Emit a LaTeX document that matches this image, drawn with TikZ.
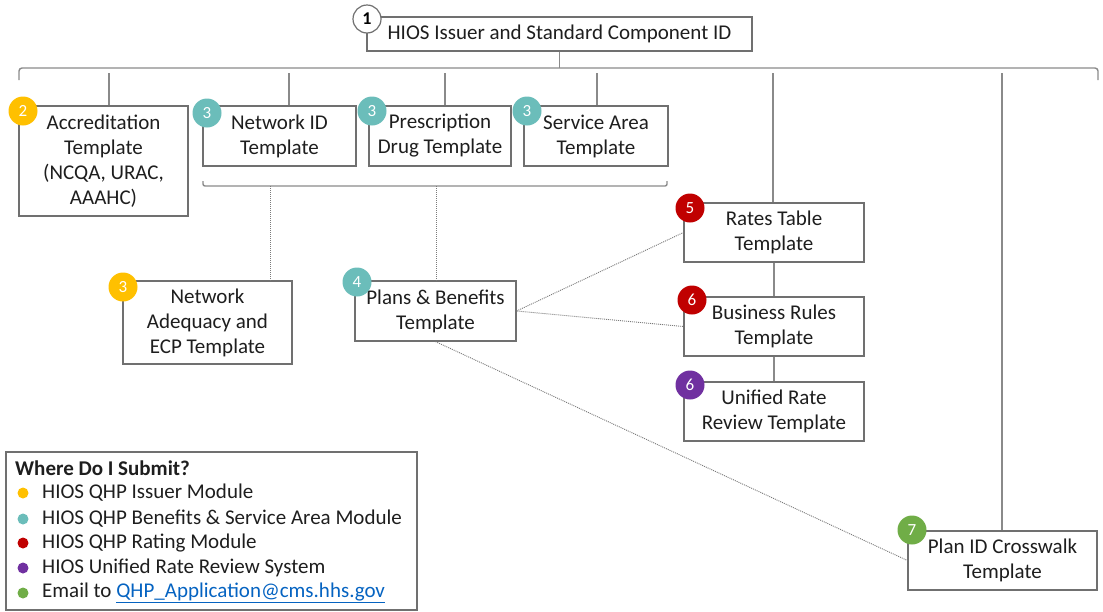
\documentclass[tikz,border=0pt]{standalone}
\usepackage{fontspec}
\setmainfont{Carlito}
\usetikzlibrary{calc}

\definecolor{boxgray}{HTML}{707070}
\definecolor{linegray}{HTML}{8A8A8A}
\definecolor{feedgray}{HTML}{7A7A7A}
\definecolor{inkgray}{HTML}{1E1E1E}
\definecolor{issuer}{HTML}{FFC000}
\definecolor{benefits}{HTML}{6BBDBA}
\definecolor{rating}{HTML}{C00000}
\definecolor{urrs}{HTML}{7030A0}
\definecolor{email}{HTML}{70AD47}
\definecolor{linkblue}{HTML}{0563C1}

\tikzset{
  tmpl/.style={draw=boxgray, line width=1.2pt, fill=white, align=center,
    inner sep=0pt, text=inkgray, font=\fontsize{21}{25}\selectfont},
  badge/.style={circle, fill=#1, minimum size=29pt, inner sep=0pt, text=white,
    font=\fontsize{17}{17}\selectfont},
  link/.style={draw=linegray, line width=1.4pt},
  feed/.style={draw=feedgray, line width=0.9pt, dash pattern=on 1pt off 1pt},
  legdot/.style={circle, fill=#1, minimum size=11pt, inner sep=0pt},
  legtext/.style={anchor=west, inner sep=0pt, text=inkgray, font=\fontsize{21}{25}\selectfont},
}

\begin{document}
\begin{tikzpicture}[x=1pt, y=-1pt]
\useasboundingbox (0,0) rectangle (1103,611);

% template boxes
\node[tmpl, minimum width=385pt, minimum height=34pt] (hios) at (559.5,34) {HIOS Issuer and Standard Component ID};
\node[tmpl, minimum width=169pt, minimum height=110pt] (acc) at (103.5,161) {Accreditation\\Template\\(NCQA, URAC,\\AAAHC)};
\node[tmpl, minimum width=153pt, minimum height=60pt] (netid) at (279.5,136) {Network ID\\Template};
\node[tmpl, minimum width=142pt, minimum height=60pt] (rx) at (440,136) {Prescription\\Drug Template};
\node[tmpl, minimum width=144pt, minimum height=60pt] (svc) at (596,136) {Service Area\\Template};
\node[tmpl, minimum width=169pt, minimum height=83pt] (netadeq) at (207.5,322.5) {Network\\Adequacy and\\ECP Template};
\node[tmpl, minimum width=161pt, minimum height=60pt] (pb) at (435.5,311) {Plans \& Benefits\\Template};
\node[tmpl, minimum width=180pt, minimum height=59pt] (rates) at (774,232.5) {Rates Table\\Template};
\node[tmpl, minimum width=180pt, minimum height=59pt] (biz) at (774,326.5) {Business Rules\\Template};
\node[tmpl, minimum width=180pt, minimum height=59pt] (urr) at (774,411.5) {Unified Rate\\Review Template};
\node[tmpl, minimum width=189pt, minimum height=59pt] (cross) at (1002.5,560.5) {Plan ID Crosswalk\\Template};

% top distribution bus
\coordinate (busL) at (19,68);
\coordinate (busR) at (1098,68);
\draw[link, rounded corners=3pt] ($(busL)+(0,12)$) -- (busL) -- (busR) -- ($(busR)+(0,12)$);
\draw[link] (hios.south) -- (hios.south |- busL);

% drops from the bus
\coordinate (d1) at (109,73);
\coordinate (d2) at (289,73);
\coordinate (d3) at (445,73);
\coordinate (d4) at (597,73);
\coordinate (d5) at (773,73);
\coordinate (d6) at (1002,73);
\draw[link] (d1) -- (d1 |- acc.north);
\draw[link] (d2) -- (d2 |- netid.north);
\draw[link] (d3) -- (d3 |- rx.north);
\draw[link] (d4) -- (d4 |- svc.north);
\draw[link] (d5) -- (d5 |- rates.north);
\draw[link] (d6) -- (d6 |- cross.north);

% bracket under the benefits templates
\coordinate (brL) at (203,186);
\coordinate (brR) at (667,186);
\draw[link, rounded corners=2pt] ($(brL)+(0,-5)$) -- (brL) -- (brR) -- ($(brR)+(0,-5)$);
\coordinate (b1) at (270,186);
\coordinate (b2) at (436,186);
\draw[feed] (b1) -- (b1 |- netadeq.north);
\draw[feed] (b2) -- (b2 |- pb.north);

% rating chain
\draw[link] (rates.south) -- (biz.north);
\draw[link] (biz.south) -- (urr.north);

% plans & benefits feeds
\draw[feed] (pb.east) -- (rates.west);
\draw[feed] (pb.east) -- (biz.west);
\draw[feed] (pb.south) -- (cross.west);

% numbered badges
\node[circle, draw=boxgray, line width=1.2pt, fill=white, minimum size=28pt, inner sep=0pt,
  font=\fontsize{18}{18}\selectfont\bfseries] (n1) at (367,19) {1};
\node[badge=issuer] (n2) at (23,111) {2};
\node[badge=benefits] (n3a) at (207,113) {3};
\node[badge=benefits] (n3b) at (372,111) {3};
\node[badge=benefits] (n3c) at (527,111) {3};
\node[badge=issuer] (n3d) at (123,287) {3};
\node[badge=benefits] (n4) at (357,282) {4};
\node[badge=rating] (n5) at (690,208) {5};
\node[badge=rating] (n6a) at (692,300) {6};
\node[badge=urrs] (n6b) at (690,385) {6};
\node[badge=email] (n7) at (912,530) {7};

% legend
\node[draw=boxgray, line width=1.2pt, minimum width=411pt, minimum height=158pt, inner sep=0pt] (legend) at (211.5,531) {};
\node[legtext, font=\fontsize{21}{25}\selectfont\bfseries] (lt) at (15,468) {Where Do I Submit?};
\node[legdot=issuer] (l1) at (23,493) {};
\node[legdot=benefits] (l2) at (23,519) {};
\node[legdot=rating] (l3) at (23,543) {};
\node[legdot=urrs] (l4) at (23,568) {};
\node[legdot=email] (l5) at (23,593) {};
\node[legtext] (t1) at (42,493) {HIOS QHP Issuer Module};
\node[legtext] (t2) at (42,519) {HIOS QHP Benefits \& Service Area Module};
\node[legtext] (t3) at (42,543) {HIOS QHP Rating Module};
\node[legtext] (t4) at (42,568) {HIOS Unified Rate Review System};
\node[legtext] (t5) at (42,593) {Email to \textcolor{linkblue}{\underline{QHP\_Application@cms.hhs.gov}}};
\end{tikzpicture}
\end{document}
